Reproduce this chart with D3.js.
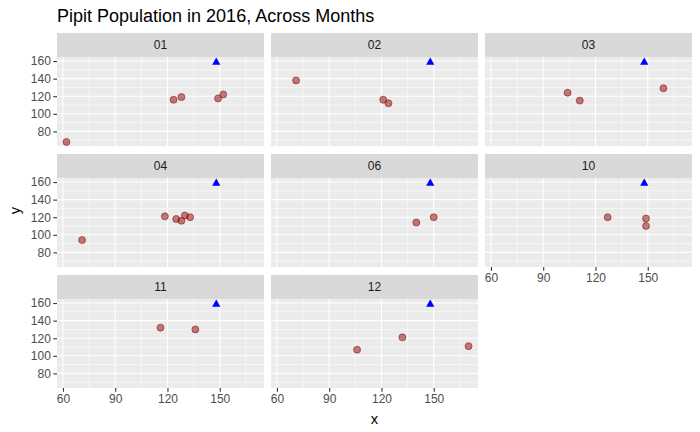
<!DOCTYPE html>
<html>
<head>
<meta charset="utf-8">
<script src="https://cdn.jsdelivr.net/npm/d3@7"></script>
<style>
body { margin: 0; background: #fff; }
text { font-family: "Liberation Sans", Arial, sans-serif; }
</style>
</head>
<body>
<svg id="chart" width="700" height="432"></svg>
<script>
// ---- data ----
const months = ["01", "02", "03", "04", "06", "10", "11", "12"];
const pointMonth = ["01","01","01","01","01",
                    "02","02","02",
                    "03","03","03",
                    "04","04","04","04","04","04",
                    "06","06",
                    "10","10","10",
                    "11","11",
                    "12","12","12"];
const pointX = [62, 123.5, 128, 149, 152,
                71, 121, 124,
                104, 111, 159,
                71, 118.5, 125, 128, 130, 133,
                140, 150,
                127, 149, 149,
                116, 136,
                106, 132, 170];
const pointY = [68, 116, 119, 117.5, 122,
                138, 116, 112,
                124, 115, 129,
                94, 121, 118, 116, 122, 120,
                114, 120,
                120, 118.5, 110,
                132, 130,
                107, 121, 111];
const refX = [148];
const refY = [160];
const xTicks = [60, 90, 120, 150];
const yTicks = [80, 100, 120, 140, 160];
const xMinor = [75, 105, 135, 165];
const yMinor = [70, 90, 110, 130, 150];

// ---- layout ----
const svg = d3.select("#chart");
const ncol = 3;
const panelW = 207, panelH = 89, stripH = 24;
const left0 = 57, top0 = 33, colGap = 7, rowStep = 121;

const allX = pointX.concat(refX), allY = pointY.concat(refY);
const xe = d3.extent(allX), ye = d3.extent(allY);
const xw = xe[1] - xe[0], yw = ye[1] - ye[0];
const x = d3.scaleLinear().domain([xe[0] - 0.05 * xw, xe[1] + 0.05 * xw]).range([0, panelW]);
const y = d3.scaleLinear().domain([ye[0] - 0.05 * yw, ye[1] + 0.05 * yw]).range([panelH, 0]);

const nrow = Math.ceil(months.length / ncol);

months.forEach((m, i) => {
  const col = i % ncol, row = Math.floor(i / ncol);
  const px = left0 + col * (panelW + colGap);
  const sy = top0 + row * rowStep;
  const py = sy + stripH;
  const g = svg.append("g").attr("transform", `translate(${px},${py})`);

  // strip
  svg.append("rect").attr("x", px).attr("y", sy).attr("width", panelW).attr("height", stripH).attr("fill", "#D9D9D9");
  svg.append("text").attr("x", px + panelW / 2).attr("y", sy + stripH / 2 + 4.3)
    .attr("text-anchor", "middle").attr("font-size", "12px").attr("fill", "#1A1A1A").text(m);

  // panel bg
  g.append("rect").attr("width", panelW).attr("height", panelH).attr("fill", "#EBEBEB");
  // minor grid
  g.selectAll(".xm").data(xMinor).join("line")
    .attr("x1", d => x(d)).attr("x2", d => x(d)).attr("y1", 0).attr("y2", panelH)
    .attr("stroke", "#fff").attr("stroke-width", 0.55);
  g.selectAll(".ym").data(yMinor).join("line")
    .attr("y1", d => y(d)).attr("y2", d => y(d)).attr("x1", 0).attr("x2", panelW)
    .attr("stroke", "#fff").attr("stroke-width", 0.55);
  // major grid
  g.selectAll(".xM").data(xTicks).join("line")
    .attr("x1", d => x(d)).attr("x2", d => x(d)).attr("y1", 0).attr("y2", panelH)
    .attr("stroke", "#fff").attr("stroke-width", 1.1);
  g.selectAll(".yM").data(yTicks).join("line")
    .attr("y1", d => y(d)).attr("y2", d => y(d)).attr("x1", 0).attr("x2", panelW)
    .attr("stroke", "#fff").attr("stroke-width", 1.1);

  // points
  const idx = d3.range(pointX.length).filter(k => pointMonth[k] === m);
  g.selectAll(".pt").data(idx).join("circle")
    .attr("cx", k => x(pointX[k])).attr("cy", k => y(pointY[k])).attr("r", 3.5)
    .attr("fill", "rgba(139,0,0,0.5)").attr("stroke", "rgba(139,0,0,0.5)").attr("stroke-width", 1);

  // reference triangle
  refX.forEach((rx, j) => {
    const cx = x(rx), cy = y(refY[j]);
    const p = d3.path();
    p.moveTo(cx - 4.1, cy + 3.6); p.lineTo(cx + 4.1, cy + 3.6); p.lineTo(cx, cy - 3.6); p.closePath();
    g.append("path").attr("d", p.toString()).attr("fill", "#0000FF");
  });

  // y axis on first column
  if (col === 0) {
    const ya = g.append("g").call(d3.axisLeft(y).tickValues(yTicks).tickSize(3.7).tickPadding(2.5));
    ya.select(".domain").remove();
    ya.selectAll(".tick line").attr("stroke", "#333333").attr("stroke-width", 1.1);
    ya.selectAll("text").attr("fill", "#4D4D4D").attr("font-size", "12px")
      .attr("font-family", "'Liberation Sans', Arial, sans-serif");
  }
  // x axis on bottom-most panel in each column
  const below = i + ncol;
  if (below >= months.length) {
    const xa = g.append("g").attr("transform", `translate(0,${panelH})`)
      .call(d3.axisBottom(x).tickValues(xTicks).tickSize(3.7).tickPadding(2.5));
    xa.select(".domain").remove();
    xa.selectAll(".tick line").attr("stroke", "#333333").attr("stroke-width", 1.1);
    xa.selectAll("text").attr("fill", "#4D4D4D").attr("font-size", "12px")
      .attr("font-family", "'Liberation Sans', Arial, sans-serif");
  }
});

// titles
svg.append("text").attr("x", 57).attr("y", 22).attr("font-size", "18px").attr("fill", "#000")
  .text("Pipit Population in 2016, Across Months");
const plotLeft = left0, plotRight = left0 + ncol * panelW + (ncol - 1) * colGap;
const plotTop = top0, plotBottom = top0 + (nrow - 1) * rowStep + stripH + panelH;
svg.append("text").attr("x", (plotLeft + plotRight) / 2).attr("y", 424)
  .attr("text-anchor", "middle").attr("font-size", "14.7px").attr("fill", "#000").text("x");
svg.append("text").attr("transform", `translate(20,${(plotTop + plotBottom) / 2}) rotate(-90)`)
  .attr("text-anchor", "middle").attr("font-size", "14.7px").attr("fill", "#000").text("y");
</script>
</body>
</html>
